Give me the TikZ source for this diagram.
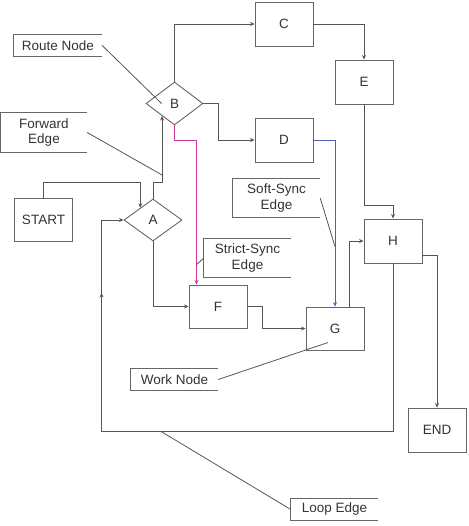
\documentclass[tikz,border=0pt]{standalone}
\usepackage{fontspec}
\setmainfont{Liberation Sans}
\usetikzlibrary{shapes.geometric,arrows.meta,calc,decorations.markings}
\definecolor{ln}{HTML}{555555}
\definecolor{bx}{HTML}{666666}
\definecolor{tx}{HTML}{333333}
\definecolor{strictc}{HTML}{C8389A}
\definecolor{softc}{HTML}{5A5AB8}
\newcommand\calloutbox[1]{\draw[bx,line width=0.9bp] (#1.north east) -- (#1.north west) -- (#1.south west) -- (#1.south east);}
\begin{document}
\begin{tikzpicture}[x=1bp,y=-1bp,
  every node/.style={font=\fontsize{13.5bp}{15.5bp}\selectfont, text=tx},
  workbox/.style={draw=bx, line width=0.9bp, rectangle, minimum width=58bp, minimum height=44bp, inner sep=0},
  routebox/.style={draw=bx, line width=0.9bp, diamond, minimum width=57bp, minimum height=43bp, inner sep=0},
  lbl/.style={rectangle, inner sep=0, align=center},
  conn/.style={draw=ln, line width=0.9bp},
  arr/.style={conn, -{Stealth[length=4.5bp,width=4bp]}},
  lead/.style={draw=ln, line width=0.8bp}]
\useasboundingbox (0,0) rectangle (469,526);
% work nodes
\node[workbox, minimum height=43bp] (START) at (43.5,219.5) {START};
\node[workbox] (C) at (284,24) {C};
\node[workbox] (E) at (364,82) {E};
\node[workbox] (D) at (284,140) {D};
\node[workbox] (H) at (393,241) {H};
\node[workbox, minimum height=43bp] (F) at (218,306.5) {F};
\node[workbox, minimum height=43bp] (G) at (335,328.5) {G};
\node[workbox] (END) at (437,430) {END};
% route nodes
\node[routebox, minimum width=58bp, minimum height=42bp] (A) at (153,220) {A};
\node[routebox] (B) at (174.5,103.5) {B};
% labels
\node[lbl, minimum width=88bp, minimum height=21bp] (RN) at (58,45.5) {Route Node};
\node[lbl, minimum width=86bp, minimum height=39bp] (FE) at (44,132.5) {Forward\\Edge};
\node[lbl, minimum width=87bp, minimum height=38bp] (SS) at (276.5,198) {Soft-Sync\\Edge};
\node[lbl, minimum width=87bp, minimum height=38bp] (ST) at (247.5,258) {Strict-Sync\\Edge};
\node[lbl, minimum width=87bp, minimum height=21bp] (WN) at (174.5,379.5) {Work Node};
\node[lbl, minimum width=87bp, minimum height=21bp] (LE) at (334.5,509.5) {Loop Edge};
\calloutbox{RN}
\calloutbox{FE}
\calloutbox{SS}
\calloutbox{ST}
\calloutbox{WN}
\calloutbox{LE}
% connectors
\draw[arr] (START.north) -- ++(0,-15) -| ($(A.west)!0.57!(A.north)$);
\draw[arr] (A.north) -- ++(0,-16) -| ($(B.west)!0.57!(B.south)$);
\draw[arr] (B.north) |- (C.west);
\draw[arr] (B.east) -- ++(15,0) |- (D.west);
\draw[arr] (C.east) -| (E.north);
\draw[arr] (E.south) -- ++(0,101) -| (H.north);
\draw[arr, draw=softc] (D.east) -| (G.north);
\draw[arr, draw=strictc] (B.south) -- ++(0,15) -| ($(F.north west)+(8,0)$);
\draw[arr] (A.south) |- (F.west);
\draw[arr] (F.east) -- ++(15,0) |- (G.west);
\draw[arr] ($(G.north)+(14,0)$) |- (H.west);
\draw[arr] ($(H.south east)+(0,-8)$) -| (END.north);
\coordinate (lc) at ($(H.south)+(0,168)$);
\draw[arr, postaction={decorate}, decoration={markings, mark=at position 0.863 with {\arrow{Stealth[length=4.5bp,width=4bp]}}}]
  (H.south) -- (lc) -| ($(A.west)+(-22,0)$) -- (A.west);
% leaders
\draw[lead] (RN.east) -- ($(B.center)+(-13,0)$);
\draw[lead] (FE.east) -- ($(A.north)+(10,-23)$);
\draw[lead] (SS.east) -- ($(G.north)+(0,-60)$);
\draw[lead] (ST.west) -- ($(F.north west)+(8,-20)$);
\draw[lead] (WN.east) -- ($(G.center)+(-7,14)$);
\draw[lead] (LE.west) -- ($(lc)+(-232,0)$);
\end{tikzpicture}
\end{document}
